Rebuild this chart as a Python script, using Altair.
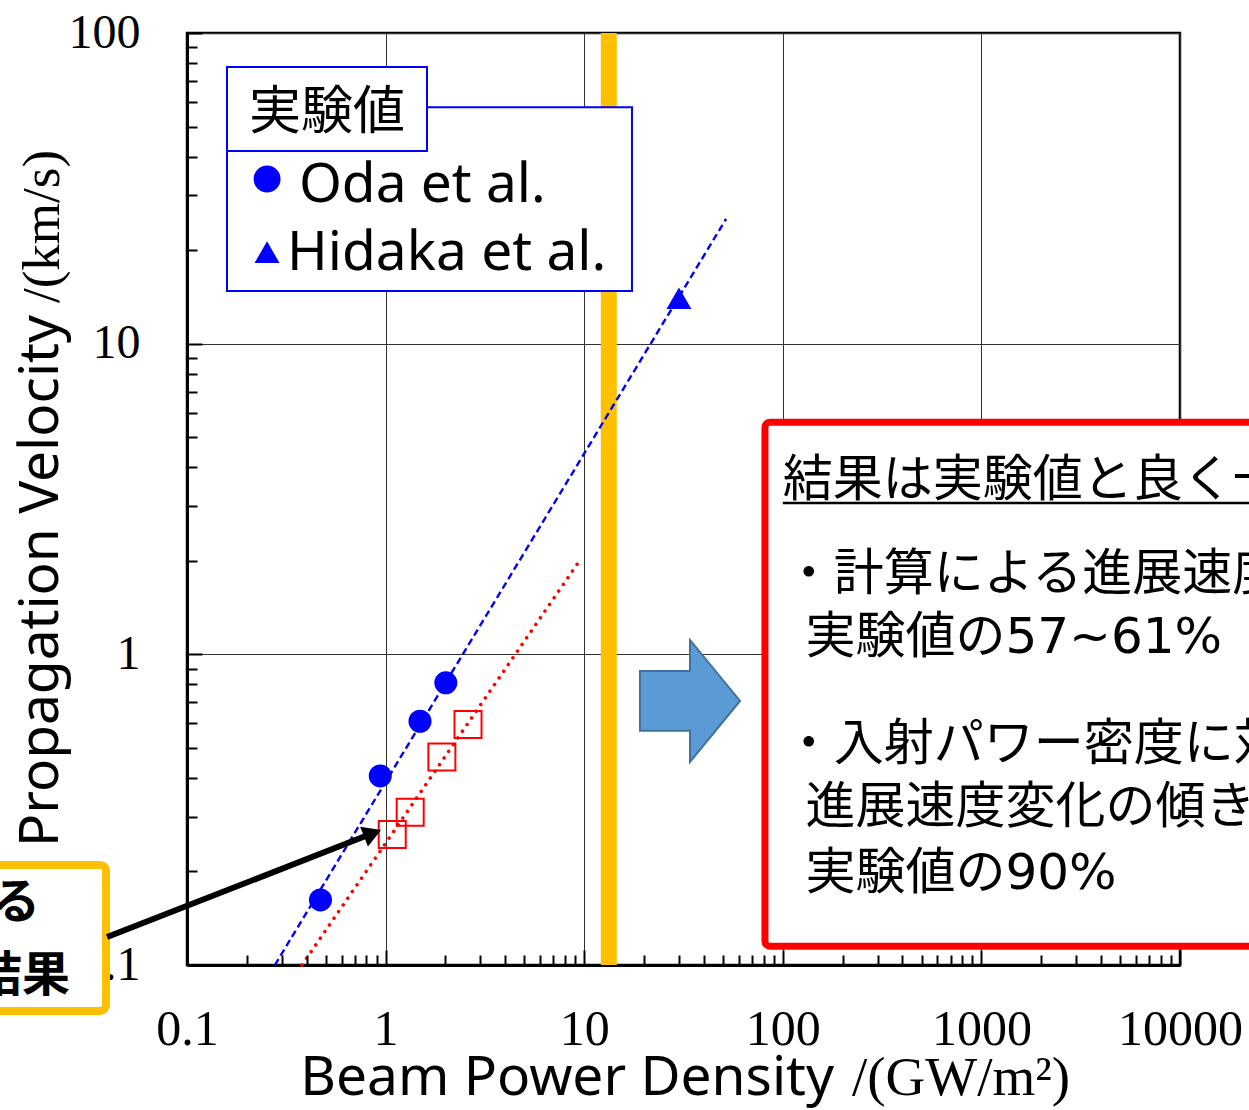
import altair as alt
import pandas as pd

# ---- propagation velocity vs. beam power density ----
oda_power = [0.47, 0.94, 1.49, 2.01]
oda_velocity = [0.162, 0.406, 0.609, 0.81]
hidaka_power = [30.0]
hidaka_velocity = [14.0]
calc_power = [1.08, 1.33, 1.92, 2.60]
calc_velocity = [0.263, 0.31, 0.467, 0.595]

# ---- power-law fit lines (end points) ----
exp_fit_power = [0.277, 51.8]
exp_fit_velocity = [0.1, 25.2]
calc_fit_power = [0.379, 9.52]
calc_fit_velocity = [0.1, 2.01]

# ---- vertical marker band ----
band_power = [13.3]

# ---- axes ----
x_domain = [0.1, 10000]
y_domain = [0.1, 100]
x_labels = [0.1, 1, 10, 100, 1000, 10000]
y_labels = [0.1, 1, 10, 100]
x_ticks = [m * 10.0 ** e for e in range(-1, 4) for m in range(1, 10)] + [10000]
y_ticks = [m * 10.0 ** e for e in range(-1, 2) for m in range(1, 10)] + [100]

# ---- annotation text ----
legend_title = ["実験値"]
legend_labels = ["Oda et al.", "Hidaka et al."]
summary_lines = [
    "結果は実験値と良く一",
    "・計算による進展速度",
    "実験値の57~61%",
    "・入射パワー密度に対",
    "進展速度変化の傾き",
    "実験値の90%",
]
callout_lines = ["る", "結果"]

W, H = 993, 932
SANS = "Noto Sans, Noto Sans CJK JP"
WIDE_SANS = "DejaVu Sans, Noto Sans CJK JP"
SERIF = "Liberation Serif"
CJK = "Noto Sans CJK JP"
BLUE, RED, ORANGE = "#0000FF", "#FF0000", "#FFC000"

xs = alt.Scale(type="log", domain=x_domain, nice=False)
ys = alt.Scale(type="log", domain=y_domain, nice=False)


def X(f, axis=None):
    return alt.X(f, type="quantitative", scale=xs, axis=axis)


def Y(f, axis=None):
    return alt.Y(f, type="quantitative", scale=ys, axis=axis)


MAJOR = "abs(log(datum.value)/LN10 - round(log(datum.value)/LN10)) < 0.001"

x_label_axis = alt.Axis(
    orient="bottom", values=x_labels, format="~g", ticks=False, tickSize=0,
    labelFont=SERIF, labelFontSize=50, labelColor="black", labelPadding=79,
    labelBaseline="alphabetic", labelFlush=False, labelOverlap=False,
    grid=True, gridColor="#333333", gridWidth=1,
    domain=True, domainColor="black", domainWidth=3, title=None, zindex=0,
)
y_label_axis = alt.Axis(
    orient="left", values=y_labels, format="~g", ticks=False, tickSize=0,
    labelFont=SERIF, labelFontSize=48, labelColor="black", labelPadding=47,
    labelBaseline="middle", labelFlush=False, labelOverlap=False,
    grid=True, gridColor="#333333", gridWidth=1,
    domain=True, domainColor="black", domainWidth=3, title=None, zindex=0,
)
# inward-pointing ticks: an opposite-side axis pulled onto the plot edge
x_tick_axis = alt.Axis(
    orient="top", offset=-H, values=x_ticks, labels=False, domain=False, grid=False,
    ticks=True, tickSize={"condition": {"test": MAJOR, "value": 15}, "value": 10},
    tickWidth=2, tickColor="black", title=None, zindex=1,
)
y_tick_axis = alt.Axis(
    orient="right", offset=-W, values=y_ticks, labels=False, domain=False, grid=False,
    ticks=True, tickSize={"condition": {"test": MAJOR, "value": 15}, "value": 10},
    tickWidth=2, tickColor="black", title=None, zindex=1,
)

# ---- threshold band ----
band = alt.Chart(pd.DataFrame({"x": band_power, "y": [y_domain[0]], "y2": [y_domain[1]]})).mark_rule(
    color=ORANGE, strokeWidth=16
).encode(x=X("x"), y=Y("y"), y2="y2")

# ---- legend box ----
legend_box = alt.Chart(pd.DataFrame({"x": [0.159], "x2": [17.4], "y": [14.77], "y2": [57.7]})).mark_rect(
    fill="white", stroke=BLUE, strokeWidth=2
).encode(x=X("x"), x2="x2", y=Y("y"), y2="y2")
legend_title_box = alt.Chart(pd.DataFrame({"x": [0.159], "x2": [1.616], "y": [41.7], "y2": [77.7]})).mark_rect(
    fill="white", stroke=BLUE, strokeWidth=2
).encode(x=X("x"), x2="x2", y=Y("y"), y2="y2")
legend_title_text = alt.Chart(pd.DataFrame({"x": [0.507], "y": [49.1], "t": legend_title})).mark_text(
    font=CJK, fontSize=52, color="black", align="center", baseline="alphabetic"
).encode(x=X("x"), y=Y("y"), text="t:N")
legend_circle = alt.Chart(pd.DataFrame({"x": [0.253], "y": [33.9]})).mark_point(
    shape="circle", filled=True, color=BLUE, opacity=1, size=729
).encode(x=X("x"), y=Y("y"))
legend_triangle = alt.Chart(pd.DataFrame({"x": [0.253], "y": [19.7]})).mark_point(
    shape="triangle-up", filled=True, color=BLUE, opacity=1, size=625
).encode(x=X("x"), y=Y("y"))
legend_text = alt.Chart(pd.DataFrame({"x": [0.366, 0.319], "y": [28.6, 17.25], "t": legend_labels})).mark_text(
    font=SANS, fontSize=55, color="black", align="left", baseline="alphabetic"
).encode(x=X("x"), y=Y("y"), text="t:N")

# ---- fit lines ----
exp_fit = alt.Chart(pd.DataFrame({"x": exp_fit_power, "y": exp_fit_velocity})).mark_line(
    color=BLUE, strokeWidth=2.4, strokeDash=[7, 4]
).encode(x=X("x"), y=Y("y"))
calc_fit = alt.Chart(pd.DataFrame({"x": calc_fit_power, "y": calc_fit_velocity})).mark_line(
    color=RED, strokeWidth=3.5, strokeDash=[0.1, 8], strokeCap="round"
).encode(x=X("x"), y=Y("y"))

# ---- data points ----
oda = alt.Chart(pd.DataFrame({"x": oda_power, "y": oda_velocity})).mark_point(
    shape="circle", filled=True, color=BLUE, opacity=1, size=529
).encode(x=X("x", x_label_axis), y=Y("y", y_label_axis))
hidaka = alt.Chart(pd.DataFrame({"x": hidaka_power, "y": hidaka_velocity})).mark_point(
    shape="triangle-up", filled=True, color=BLUE, opacity=1, size=620
).encode(x=X("x", x_tick_axis), y=Y("y", y_tick_axis))
calc = alt.Chart(pd.DataFrame({"x": calc_power, "y": calc_velocity})).mark_point(
    shape="square", filled=False, color=RED, strokeWidth=2, opacity=1, size=729
).encode(x=X("x"), y=Y("y"))

# ---- summary box ----
summary_box = alt.Chart(pd.DataFrame({"x": [81.3], "x2": [30000], "y": [0.115], "y2": [5.59]})).mark_rect(
    fill="white", stroke=RED, strokeWidth=7, cornerRadius=5
).encode(x=X("x"), x2="x2", y=Y("y"), y2="y2")
summary_text = alt.Chart(pd.DataFrame({
    "x": [100, 101, 130, 101, 130, 130],
    "y": [3.23, 1.61, 1.01, 0.457, 0.286, 0.1757],
    "t": summary_lines,
})).mark_text(font=WIDE_SANS, fontSize=50, color="black", align="left", baseline="alphabetic").encode(
    x=X("x"), y=Y("y"), text="t:N"
)
summary_underline = alt.Chart(pd.DataFrame({"x": [100], "x2": [30000], "y": [3.07]})).mark_rule(
    color="black", strokeWidth=2.5
).encode(x=X("x"), x2="x2", y=Y("y"))

# ---- block arrow pointing to the summary ----
block_arrow = alt.Chart(pd.DataFrame({"x": [34.1], "y": [0.708]})).mark_point(
    shape="M -0.82 -0.49 L 0 -0.49 L 0 -1 L 0.82 0 L 0 1 L 0 0.49 L -0.82 0.49 Z",
    filled=True, fill="#5B9BD5", stroke="#41719C", strokeWidth=2, opacity=1, size=14884,
).encode(x=X("x"), y=Y("y"))

# ---- callout for the computed result ----
callout_box = alt.Chart(pd.DataFrame({"x": [0.001], "x2": [0.0391], "y": [0.0711], "y2": [0.21]})).mark_rect(
    fill="white", stroke=ORANGE, strokeWidth=8, cornerRadius=6
).encode(x=X("x"), x2="x2", y=Y("y"), y2="y2")
callout_text = alt.Chart(pd.DataFrame({"x": [0.0182, 0.02576], "y": [0.1417, 0.0825], "t": callout_lines})).mark_text(
    font=CJK, fontSize=48, fontWeight="bold", color="black", align="right", baseline="alphabetic"
).encode(x=X("x"), y=Y("y"), text="t:N")
callout_line = alt.Chart(pd.DataFrame({"x": [0.0396], "x2": [0.860], "y": [0.123], "y2": [0.2654]})).mark_rule(
    color="black", strokeWidth=6
).encode(x=X("x"), x2="x2", y=Y("y"), y2="y2")
callout_head = alt.Chart(pd.DataFrame({"x": [0.860], "y": [0.2654]})).mark_point(
    shape="triangle-right", angle=338.5, filled=True, color="black", opacity=1, size=450
).encode(x=X("x"), y=Y("y"))

# ---- axis titles (mixed sans / serif) ----
def title_text(text, font, size, x, y, align, angle=0):
    return alt.Chart(pd.DataFrame({"t": [text]})).mark_text(
        font=font, fontSize=size, color="black", align=align, baseline="alphabetic", angle=angle
    ).encode(text="t:N", x=alt.value(x), y=alt.value(y))


x_title_a = title_text("Beam Power Density", SANS, 55, 647, 1062, "right")
x_title_b = title_text("/(GW/m²)", SERIF, 55, 665, 1062, "left")
y_title_a = title_text("Propagation Velocity", SANS, 55, -129, 814, "left", 270)
y_title_b = title_text("/(km/s)", SERIF, 53, -128, 270, "left", 270)

chart = alt.layer(
    band, legend_box, legend_title_box, legend_title_text, legend_circle, legend_triangle, legend_text,
    exp_fit, calc_fit, oda, hidaka, calc,
    summary_box, summary_underline, summary_text, block_arrow,
    callout_box, callout_text, callout_line, callout_head,
    x_title_a, x_title_b, y_title_a, y_title_b,
).resolve_axis(x="independent", y="independent").properties(
    width=W, height=H,
    autosize=alt.AutoSizeParams(type="none"),
    padding={"left": 187, "top": 33, "right": 69, "bottom": 143},
    background="white",
).configure_view(stroke="black", strokeWidth=2.5)

chart.save("out.html", embed_options={"renderer": "svg", "actions": False})
